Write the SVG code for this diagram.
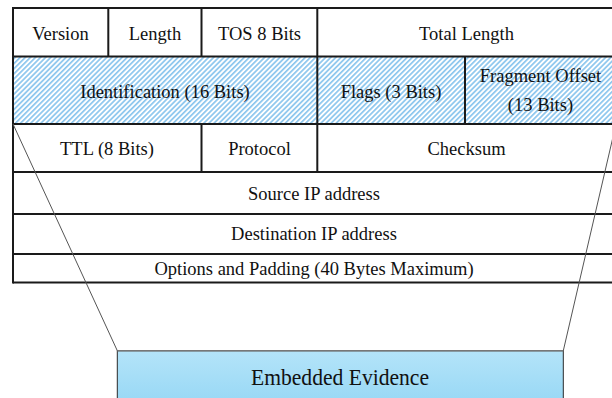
<svg xmlns="http://www.w3.org/2000/svg" width="612" height="398" viewBox="0 0 612 398">
  <style>
    .cell { fill: #ffffff; stroke: none; }
    .hatched { fill: url(#hatch); stroke: none; }
    .grid { stroke: #1a1a1a; stroke-width: 2; fill: none; }
    .lbl { font-family: "Liberation Serif", "Times New Roman", serif; font-size: 18.5px; fill: #111111; text-anchor: middle; }
    .big { font-family: "Liberation Serif", "Times New Roman", serif; font-size: 23px; fill: #111111; text-anchor: middle; }
    .link { stroke: #555555; stroke-width: 1; fill: none; }
  </style>
  <defs>
    <pattern id="hatch" patternUnits="userSpaceOnUse" width="3.6" height="3.6" patternTransform="rotate(45)">
      <rect x="0" y="0" width="3.6" height="3.6" fill="#ffffff"/>
      <rect x="0" y="0" width="1.7" height="3.6" fill="#8cc6ee"/>
    </pattern>
    <linearGradient id="evidenceFill" x1="0" y1="0" x2="0" y2="1">
      <stop offset="0" stop-color="#b4e4f9"/>
      <stop offset="1" stop-color="#98d8f5"/>
    </linearGradient>
  </defs>

  <rect x="0" y="0" width="612" height="398" fill="#ffffff"/>

  <!-- IPv4 header table -->
  <g id="header-table">
    <rect class="cell" x="13" y="8" width="603" height="275"/>
    <rect class="hatched" x="13" y="56.5" width="603" height="67.5"/>

    <!-- row separators -->
    <path class="grid" d="M13 8 H616 M13 56.5 H616 M13 124 H616 M13 172 H616 M13 214 H616 M13 254 H616 M13 282.5 H616"/>
    <!-- outer left edge -->
    <path class="grid" d="M13 7 V283.5"/>
    <!-- column separators -->
    <path class="grid" d="M108.3 8 V56.5 M201.5 8 V56.5 M317.3 8 V172 M465 56.5 V124 M201.5 124 V172"/>
  </g>

  <g id="field-version"><text class="lbl" x="60.5" y="39.5">Version</text></g>
  <g id="field-length"><text class="lbl" x="155" y="39.5">Length</text></g>
  <g id="field-tos"><text class="lbl" x="259.5" y="39.5">TOS 8 Bits</text></g>
  <g id="field-total-length"><text class="lbl" x="466.5" y="39.5">Total Length</text></g>

  <g id="field-identification"><text class="lbl" x="165" y="97.5">Identification (16 Bits)</text></g>
  <g id="field-flags"><text class="lbl" x="391" y="97.5">Flags (3 Bits)</text></g>
  <g id="field-fragment-offset">
    <text class="lbl" x="540.5" y="82">Fragment Offset</text>
    <text class="lbl" x="540.5" y="110.5">(13 Bits)</text>
  </g>

  <g id="field-ttl"><text class="lbl" x="107" y="155">TTL (8 Bits)</text></g>
  <g id="field-protocol"><text class="lbl" x="259.5" y="155">Protocol</text></g>
  <g id="field-checksum"><text class="lbl" x="466.5" y="155">Checksum</text></g>

  <g id="field-source"><text class="lbl" x="314" y="200">Source IP address</text></g>
  <g id="field-destination"><text class="lbl" x="314" y="240">Destination IP address</text></g>
  <g id="field-options"><text class="lbl" x="314" y="274.5">Options and Padding (40 Bytes Maximum)</text></g>

  <!-- funnel lines from the header down to the evidence box -->
  <g id="connectors">
    <line class="link" x1="13" y1="124" x2="117.3" y2="350.7"/>
    <line class="link" x1="616" y1="124" x2="563.3" y2="350.7"/>
  </g>

  <g id="embedded-evidence">
    <rect x="117.3" y="350.7" width="446" height="52" fill="url(#evidenceFill)" stroke="#2a2a2a" stroke-width="1"/>
    <line x1="117.3" y1="350.7" x2="563.3" y2="350.7" stroke="#777777" stroke-width="1.6"/>
    <text class="big" x="340" y="385" textLength="178" lengthAdjust="spacingAndGlyphs">Embedded Evidence</text>
  </g>
</svg>
